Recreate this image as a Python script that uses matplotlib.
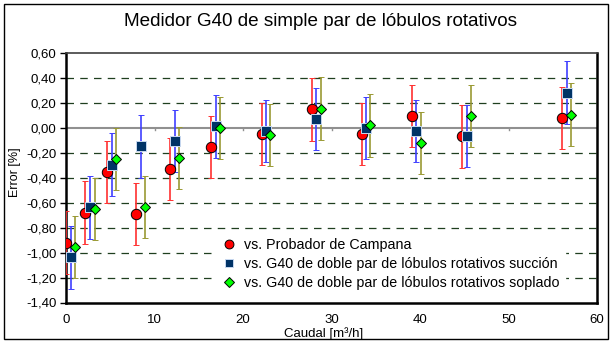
import matplotlib
matplotlib.use("Agg")
import matplotlib.pyplot as plt
from matplotlib.patches import Rectangle

plt.rcParams['font.family'] = ['Liberation Sans', 'DejaVu Sans']

# caudal [m3/h] and error [%] for each comparison
caudal_campana = [0.0, 2.2, 4.6, 7.95, 11.75, 16.4, 22.1, 27.75, 33.45, 39.1, 44.8, 56.1]
error_campana = [-0.92, -0.68, -0.355, -0.69, -0.33, -0.155, -0.05, 0.148, -0.05, 0.095, -0.068, 0.08]

caudal_succion = [0.53, 2.7, 5.15, 8.47, 12.3, 16.95, 22.6, 28.25, 33.9, 39.6, 45.3, 56.6]
error_succion = [-1.038, -0.637, -0.295, -0.148, -0.105, 0.012, -0.025, 0.073, 0.0, -0.023, -0.063, 0.282]

caudal_soplado = [1.05, 3.28, 5.6, 8.93, 12.8, 17.44, 23.1, 28.78, 34.4, 40.1, 45.76, 57.1]
error_soplado = [-0.957, -0.65, -0.252, -0.632, -0.24, 0.0, -0.057, 0.154, 0.02, -0.121, 0.095, 0.106]

incertidumbre = 0.25

y_ticks = [0.6, 0.4, 0.2, 0.0, -0.2, -0.4, -0.6, -0.8, -1.0, -1.2, -1.4]
x_ticks = [0, 10, 20, 30, 40, 50, 60]

fig = plt.figure(figsize=(6.13, 3.43), dpi=100)
ax = fig.add_axes([66 / 613, 1 - 302.5 / 343, 531 / 613, 249.5 / 343])

# outer chart border
fig.patches.append(Rectangle((4 / 613, 4 / 343), 604 / 613, 335 / 343, transform=fig.transFigure,
                             fill=False, edgecolor='black', linewidth=1.0))

for yv in y_ticks[1:-1]:
    if yv == 0.0:
        continue
    ax.axhline(yv, color='#1f3f1f', linestyle=(0, (6, 5)), linewidth=0.9, zorder=1)
ax.axhline(0.0, color='#909090', linewidth=1.5, zorder=1)
for xv in x_ticks[1:-1]:
    ax.plot([xv, xv], [0.0, -0.02], color='#909090', linewidth=1.0, zorder=1)

ax.errorbar(caudal_campana, error_campana, yerr=incertidumbre, fmt='o', color='red',
            ecolor='#ff3030', elinewidth=1.2, capsize=2.5, capthick=1.0,
            markersize=7.5, markeredgecolor='black', markeredgewidth=0.7,
            label='vs. Probador de Campana', zorder=3)
ax.errorbar(caudal_succion, error_succion, yerr=incertidumbre, fmt='s', color='#003366',
            ecolor='#4040ff', elinewidth=1.2, capsize=2.5, capthick=1.0,
            markersize=6.5, markeredgecolor='#c8d8f0', markeredgewidth=0.7,
            label='vs. G40 de doble par de lóbulos rotativos succión', zorder=3)
ax.errorbar(caudal_soplado, error_soplado, yerr=incertidumbre, fmt='D', color='#00ff00',
            ecolor='#999933', elinewidth=1.2, capsize=2.5, capthick=1.0,
            markersize=5.5, markeredgecolor='black', markeredgewidth=0.7,
            label='vs. G40 de doble par de lóbulos rotativos soplado', zorder=3)

ax.set_xlim(0, 60)
ax.set_ylim(-1.4, 0.6)
ax.set_xticks(x_ticks)
ax.set_yticks(y_ticks)
ax.set_yticklabels([f"{v:.2f}".replace('.', ',') for v in y_ticks])
ax.tick_params(axis='y', direction='out', length=4, width=1, labelsize=9.5, pad=3)
ax.tick_params(axis='x', length=0, labelsize=9.5, pad=8)

for side in ['left', 'bottom', 'right']:
    ax.spines[side].set_linewidth(1.8)
    ax.spines[side].set_color('black')
ax.spines['top'].set_linewidth(1.2)
ax.spines['top'].set_color('#404040')

ax.set_xlabel('Caudal [m³/h]', fontsize=9.5)
ax.xaxis.set_label_coords(0.486, -0.1)
ax.set_ylabel('Error [%]', fontsize=9)
ax.yaxis.set_label_coords(-0.085, 0.523)
fig.text(320 / 613, 1 - 22 / 343, 'Medidor G40 de simple par de lóbulos rotativos',
         fontsize=13.6, ha='center', va='center')

handles, labels = ax.get_legend_handles_labels()
handles = [h[0] for h in handles]
leg = ax.legend(handles, labels, loc='lower right', bbox_to_anchor=(0.953, 0.0),
                frameon=True, fontsize=10.3, handletextpad=0.5, borderpad=0.4,
                labelspacing=0.35, handlelength=1.0, fancybox=False, markerscale=0.85)
leg.get_frame().set_edgecolor('white')
leg.get_frame().set_facecolor('white')
leg.get_frame().set_alpha(1.0)

fig.savefig('out.png', dpi=100)
